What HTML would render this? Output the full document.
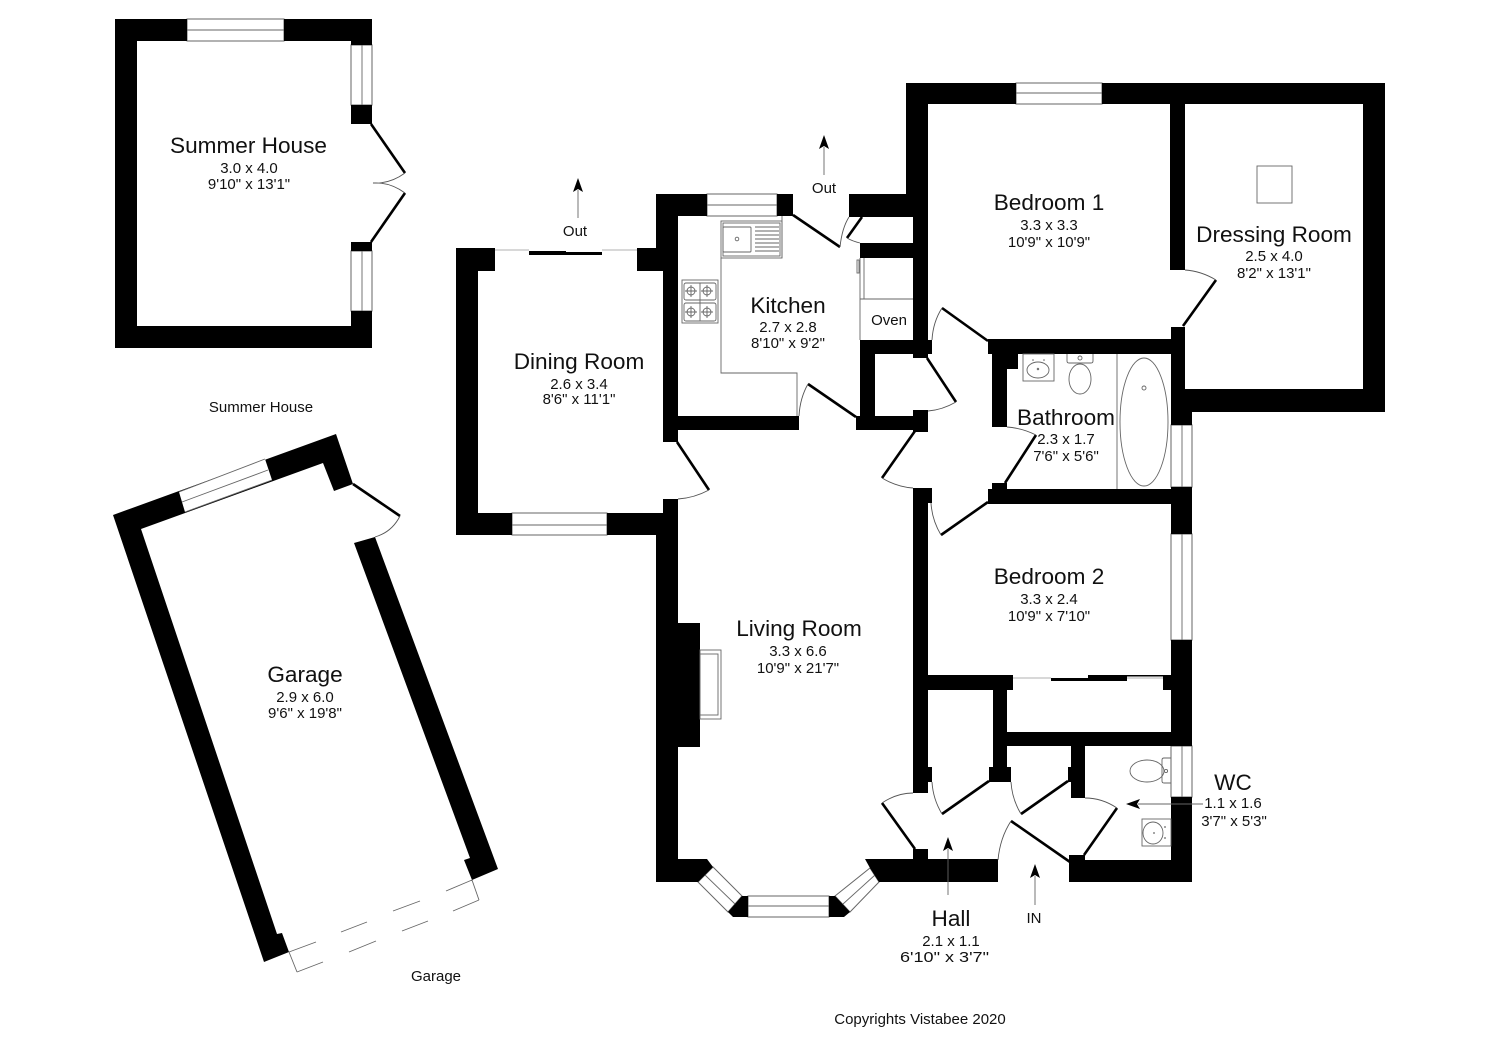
<!DOCTYPE html>
<html><head><meta charset="utf-8"><style>
html,body{margin:0;padding:0;background:#fff}
svg{display:block}
text{font-family:"Liberation Sans",sans-serif;fill:#111;text-anchor:middle}
.t{font-size:22.6px}.s{font-size:15px}.c{font-size:15px}
.d{stroke:#000;stroke-width:2.6;fill:none}
.a{stroke:#555;stroke-width:.9;fill:none}
.f{stroke:#666;stroke-width:.9;fill:#fff}
.n{stroke:#666;stroke-width:.9;fill:none}
.w{stroke:#666;stroke-width:1;fill:#fff}
</style></head><body>
<svg width="1500" height="1057" viewBox="0 0 1500 1057" xmlns="http://www.w3.org/2000/svg">
<rect width="1500" height="1057" fill="#fff"/>

<!-- Summer House windows -->
<rect class="w" x="187" y="19" width="97" height="22"/><line class="n" x1="187" y1="30" x2="284" y2="30"/>
<rect class="w" x="351" y="45" width="21" height="60"/><line class="n" x1="362" y1="45" x2="362" y2="105"/>
<rect class="w" x="351" y="251" width="21" height="60"/><line class="n" x1="362" y1="251" x2="362" y2="311"/>
<!-- Summer House -->
<g fill="#000">
<rect x="115" y="19" width="72" height="22"/><rect x="284" y="19" width="88" height="22"/>
<rect x="115" y="19" width="22" height="329"/><rect x="115" y="326" width="257" height="22"/>
<rect x="351" y="19" width="21" height="26"/><rect x="351" y="105" width="21" height="19"/>
<rect x="351" y="242" width="21" height="9"/><rect x="351" y="311" width="21" height="37"/>
</g>
<path class="d" d="M371 124L405 173M371 242L405 193"/>
<path class="a" d="M405 173Q390 184 373 183Q390 182 405 193"/>

<!-- Garage -->
<path fill="#000" d="M113 515L336 434L353 484L334 491L323 463L141 529L277 934L282 933L289 952L264 962Z"/>
<path fill="#000" d="M354 543L375 537L498 869L472 880L464 860L470 858Z"/>
<polygon fill="#fff" points="179,492 265,459 272,480 185,512"/>
<path class="n" d="M179 492L265 459M182 502L268 470M185 512L272 480"/>
<line class="d" x1="353" y1="484" x2="400" y2="516"/>
<path class="a" d="M400 516Q392 532 375 537"/>
<path class="n" d="M289 952L316 942M341 932L367 922M393 911L420 901M446 891L472 880M297 972L323 962M349 952L376 941M402 931L428 921M453 911L479 900M289 952L297 972M472 880L479 900"/>

<!-- Windows -->
<rect class="w" x="1016" y="83" width="86" height="21"/><line class="n" x1="1016" y1="93" x2="1102" y2="93"/>
<rect class="w" x="707" y="194" width="70" height="22"/><line class="n" x1="707" y1="205" x2="777" y2="205"/>
<rect class="w" x="512" y="513" width="95" height="22"/><line class="n" x1="512" y1="525" x2="607" y2="525"/>
<rect class="w" x="1171" y="425" width="21" height="62"/><line class="n" x1="1182" y1="425" x2="1182" y2="487"/>
<rect class="w" x="1171" y="534" width="21" height="106"/><line class="n" x1="1182" y1="534" x2="1182" y2="640"/>
<rect class="w" x="1171" y="746" width="21" height="51"/><line class="n" x1="1182" y1="746" x2="1182" y2="797"/>
<rect class="w" x="748" y="896" width="81" height="21"/><line class="n" x1="748" y1="906" x2="829" y2="906"/>
<polygon class="w" points="713,867 742,896 728,912 698,882"/><line class="n" x1="705" y1="875" x2="735" y2="904"/>
<polygon class="w" points="835,896 870,868 879,882 850,912" /><line class="n" x1="843" y1="904" x2="875" y2="875"/>
<path d="M495 250H529M602 250H637M1013 678H1051M1127 678H1163" stroke="#ccc" stroke-width="1.5" fill="none"/>

<!-- Main walls -->
<g fill="#000">
<!-- bedroom/dressing -->
<rect x="906" y="83" width="110" height="21"/><rect x="1102" y="83" width="283" height="21"/>
<rect x="906" y="83" width="22" height="134"/><rect x="1363" y="83" width="22" height="329"/>
<rect x="1171" y="389" width="214" height="23"/>
<rect x="1170" y="104" width="15" height="166"/><rect x="1171" y="327" width="14" height="98"/>
<rect x="1171" y="412" width="21" height="13"/>
<rect x="1171" y="487" width="21" height="47"/><rect x="1171" y="640" width="21" height="106"/>
<rect x="1171" y="797" width="21" height="85"/>
<!-- bathroom -->
<rect x="988" y="339" width="183" height="15"/>
<rect x="992" y="354" width="15" height="73"/><rect x="992" y="354" width="26" height="15"/>
<rect x="988" y="489" width="183" height="15"/><rect x="992" y="483" width="15" height="6"/>
<!-- cupboard/kitchen right -->
<rect x="849" y="194" width="57" height="23"/><rect x="913" y="217" width="15" height="141"/>
<rect x="860" y="243" width="53" height="15"/><rect x="860" y="340" width="72" height="14"/>
<rect x="860" y="340" width="15" height="90"/><rect x="856" y="416" width="72" height="14"/>
<rect x="913" y="410" width="15" height="22"/>
<!-- kitchen -->
<rect x="656" y="194" width="51" height="22"/><rect x="777" y="194" width="16" height="22"/>
<rect x="656" y="194" width="22" height="54"/><rect x="663" y="248" width="15" height="194"/>
<rect x="678" y="416" width="121" height="14"/>
<!-- dining -->
<rect x="456" y="248" width="39" height="23"/><rect x="456" y="248" width="22" height="287"/>
<rect x="637" y="248" width="26" height="23"/>
<rect x="456" y="513" width="56" height="22"/><rect x="607" y="513" width="56" height="22"/>
<rect x="663" y="499" width="15" height="20"/>
<rect x="529" y="251" width="37" height="4"/><rect x="566" y="252" width="36" height="3"/>
<!-- living -->
<rect x="656" y="513" width="22" height="369"/><rect x="678" y="623" width="22" height="124"/>
<polygon points="656,859 707,859 713,867 698,882 656,882"/>
<polygon points="742,896 748,896 748,917 733,917 728,912"/>
<polygon points="829,896 835,896 850,912 844,917 829,917"/>
<polygon points="865,859 998,859 998,882 879,882 870,868"/>
<rect x="913" y="849" width="15" height="11"/>
<rect x="1069" y="860" width="123" height="22"/><rect x="1069" y="855" width="16" height="5"/>
<!-- living right wall -->
<rect x="913" y="488" width="15" height="305"/><rect x="913" y="488" width="19" height="15"/>
<rect x="913" y="767" width="19" height="15"/>
<!-- lower rooms -->
<rect x="928" y="675" width="85" height="15"/><rect x="993" y="690" width="14" height="91"/>
<rect x="989" y="767" width="22" height="15"/>
<rect x="1007" y="732" width="185" height="14"/>
<rect x="1071" y="746" width="14" height="52"/><rect x="1068" y="767" width="5" height="15"/>
<rect x="1163" y="675" width="8" height="15"/>
<rect x="1051" y="678" width="37" height="3"/><rect x="1088" y="675" width="39" height="6"/>
<rect x="1127" y="675" width="40" height="1.5"/>
</g>

<!-- Doors -->
<g class="d">
<path class="d" d="M793 215L840 247M862 217L847 238M808 384L856 417M942 308L988 341M927 358L956 402M915 431L882 478M988 502L941 535M1005 483L1036 435M1183 326L1216 280M677 442L709 490M915 849L882 803M989 781L942 814M1068 781L1021 814M1070 862L1011 821M1084 855L1117 808"/>
</g>
<path class="a" d="M840 247Q842 228 849 217M847 238Q852 241 860 243M808 384Q800 398 799 416M942 308Q933 322 932 340M956 402Q942 410 928 411M882 478Q897 487 913 488M941 535Q932 520 931 503M1036 435Q1022 428 1007 427M1216 280Q1201 271 1185 270M709 490Q694 498 678 499M882 803Q897 793 913 793M942 814Q933 799 932 782M1021 814Q1012 799 1011 782M1011 821Q1000 838 998 860M1117 808Q1102 798 1085 798"/>

<!-- Kitchen fixtures -->
<rect class="n" x="721" y="221" width="61" height="37"/><rect class="n" x="723" y="223" width="57" height="33"/>
<rect class="n" x="723" y="227" width="28" height="25" rx="1"/><circle class="n" cx="737" cy="239" r="1.8"/>
<path class="n" d="M755 227H779M755 231H779M755 235H779M755 239H779M755 243H779M755 247H779M755 251H779"/>
<path class="n" d="M721 258V373H797V416M782 216V258"/>
<rect class="n" x="682" y="280" width="36" height="43"/>
<rect class="n" x="684" y="283" width="32" height="17" rx="2"/><rect class="n" x="684" y="303" width="32" height="18" rx="2"/>
<line class="n" x1="700" y1="283" x2="700" y2="321"/>
<g class="n"><circle class="n" cx="691" cy="291" r="4"/><circle class="n" cx="707" cy="291" r="4"/><circle class="n" cx="691" cy="312" r="4"/><circle class="n" cx="707" cy="312" r="4"/>
<path class="n" d="M691 285V297M685 291H697M707 285V297M701 291H713M691 306V318M685 312H697M707 306V318M701 312H713"/></g>
<path class="n" d="M860 258V340M864 258V299M860 299H913"/>
<rect class="n" x="857" y="260" width="2" height="13"/>

<!-- Bathroom fixtures -->
<line class="n" x1="1117" y1="354" x2="1117" y2="489"/>
<ellipse class="n" cx="1144" cy="422" rx="24" ry="64"/><circle class="n" cx="1144" cy="388" r="2"/>
<rect class="n" x="1023" y="354" width="31" height="27"/><ellipse class="n" cx="1038" cy="370" rx="11" ry="8"/>
<circle class="n" cx="1038" cy="369" r=".8"/><circle cx="1033" cy="360" r=".8" fill="#666"/><circle cx="1044" cy="360" r=".8" fill="#666"/>
<path class="n" d="M1067 354V361Q1067 363 1069 363H1091Q1093 363 1093 361V354"/>
<ellipse class="n" cx="1080" cy="379" rx="11" ry="15"/><circle class="n" cx="1080" cy="358" r="2"/>
<!-- WC fixtures -->
<path class="n" d="M1171 758H1164Q1162 758 1162 760V781Q1162 783 1164 783H1171"/>
<ellipse class="n" cx="1147" cy="771" rx="17" ry="11"/><circle class="n" cx="1166" cy="771" r="1.6"/>
<rect class="n" x="1142" y="819" width="29" height="27"/><ellipse class="n" cx="1153" cy="833" rx="10" ry="11"/>
<circle cx="1154" cy="833" r=".9" fill="#666"/><circle cx="1165" cy="827" r=".9" fill="#666"/><circle cx="1165" cy="838" r=".9" fill="#666"/>
<!-- Fireplace -->
<rect class="n" x="700" y="650" width="21" height="69"/><rect class="n" x="700" y="654" width="18" height="61"/>
<!-- Skylight -->
<rect class="n" x="1257" y="166" width="35" height="37"/>

<!-- Arrows -->
<path class="n" d="M824 147V175M578 190V218M948 849V895M1035 876V905M1138 804H1203"/>
<g fill="#000">
<polygon points="824,135 829,149 824,146 819,149"/>
<polygon points="578,178 583,192 578,189 573,192"/>
<polygon points="948,837 953,851 948,848 943,851"/>
<polygon points="1035,864 1040,878 1035,875 1030,878"/>
<polygon points="1126,804 1140,799 1137,804 1140,809"/>
</g>

<!-- Labels -->
<text class="t" x="248.500" y="153">Summer House</text><text class="s" x="249" y="173">3.0 x 4.0</text><text class="s" x="249" y="189">9'10" x 13'1"</text>
<text class="t" x="788" y="313">Kitchen</text><text class="s" x="788" y="332">2.7 x 2.8</text><text class="s" x="788" y="348">8'10" x 9'2"</text>
<text class="s" x="889" y="325">Oven</text>
<text class="t" x="579" y="369">Dining Room</text><text class="s" x="579" y="389">2.6 x 3.4</text><text class="s" x="579" y="404">8'6" x 11'1"</text>
<text class="t" x="1049" y="210">Bedroom 1</text><text class="s" x="1049" y="230">3.3 x 3.3</text><text class="s" x="1049" y="247">10'9" x 10'9"</text>
<text class="t" x="1274" y="242">Dressing Room</text><text class="s" x="1274" y="261">2.5 x 4.0</text><text class="s" x="1274" y="278">8'2" x 13'1"</text>
<text class="t" x="1066" y="425">Bathroom</text><text class="s" x="1066" y="444">2.3 x 1.7</text><text class="s" x="1066" y="461">7'6" x 5'6"</text>
<text class="t" x="1049" y="584">Bedroom 2</text><text class="s" x="1049" y="604">3.3 x 2.4</text><text class="s" x="1049" y="621">10'9" x 7'10"</text>
<text class="t" x="799" y="636">Living Room</text><text class="s" x="798" y="656">3.3 x 6.6</text><text class="s" x="798" y="673">10'9" x 21'7"</text>
<text class="t" x="305" y="682">Garage</text><text class="s" x="305" y="702">2.9 x 6.0</text><text class="s" x="305" y="718">9'6" x 19'8"</text>
<text class="t" x="951" y="926">Hall</text><text class="s" x="951" y="946">2.1 x 1.1</text><text class="s" x="944.500" y="962" textLength="89" lengthAdjust="spacingAndGlyphs">6'10" x 3'7"</text>
<text class="t" x="1233" y="790">WC</text><text class="s" x="1233" y="808">1.1 x 1.6</text><text class="s" x="1234" y="826">3'7" x 5'3"</text>
<text class="c" x="824" y="193">Out</text><text class="c" x="575" y="236">Out</text><text class="c" x="1034" y="923">IN</text>
<text class="c" x="261" y="412">Summer House</text><text class="c" x="436" y="981">Garage</text>
<text class="c" x="920" y="1024">Copyrights Vistabee 2020</text>
</svg>
</body></html>
